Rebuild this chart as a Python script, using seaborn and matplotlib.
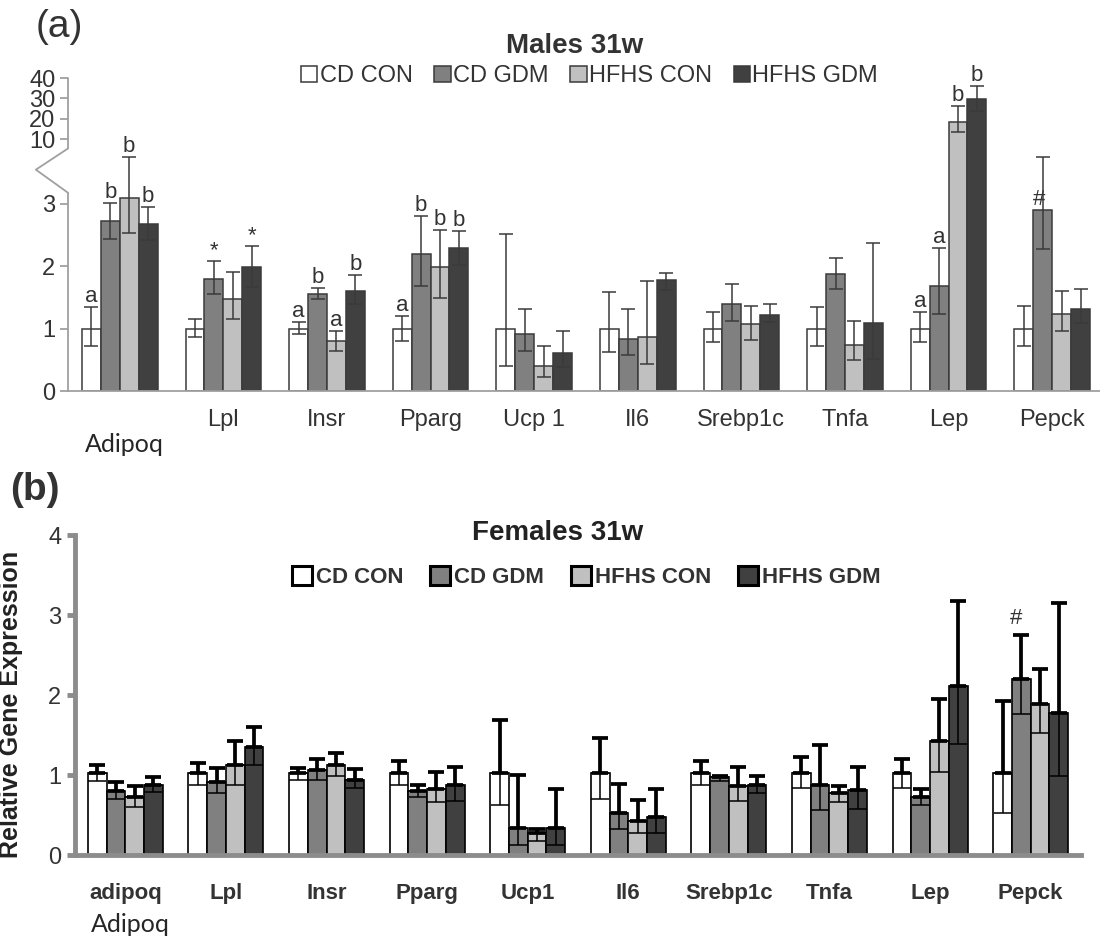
import numpy as np
import pandas as pd
import matplotlib
matplotlib.use("Agg")
import matplotlib.pyplot as plt
import matplotlib.transforms as mtransforms
import seaborn as sns

genes = ['Adipoq', 'Lpl', 'Insr', 'Pparg', 'Ucp1', 'Il6', 'Srebp1c', 'Tnfa', 'Lep', 'Pepck']
groups = ['CD CON', 'CD GDM', 'HFHS CON', 'HFHS GDM']
colors = ['#ffffff', '#808080', '#c0c0c0', '#404040']

male_ticklabels = ['', 'Lpl', 'Insr', 'Pparg', 'Ucp 1', 'Il6', 'Srebp1c', 'Tnfa', 'Lep', 'Pepck']
female_ticklabels = ['adipoq', 'Lpl', 'Insr', 'Pparg', 'Ucp1', 'Il6', 'Srebp1c', 'Tnfa', 'Lep', 'Pepck']

# males 31w: one row per group (CD CON, CD GDM, HFHS CON, HFHS GDM)
male_mean = [
    [1.0, 1.0, 1.0, 1.0, 1.0, 1.0, 1.0, 1.0, 1.0, 1.0],
    [2.73, 1.80, 1.56, 2.20, 0.92, 0.84, 1.39, 1.87, 1.68, 2.91],
    [3.10, 1.47, 0.80, 1.99, 0.40, 0.87, 1.08, 0.74, 18.3, 1.23],
    [2.68, 1.99, 1.61, 2.29, 0.61, 1.78, 1.22, 1.09, 29.9, 1.32],
]
male_hi = [
    [1.34, 1.15, 1.10, 1.20, 2.52, 1.59, 1.27, 1.34, 1.26, 1.36],
    [3.01, 2.08, 1.66, 2.81, 1.31, 1.31, 1.71, 2.13, 2.29, 3.75],
    [3.75, 1.91, 0.97, 2.59, 0.73, 1.77, 1.36, 1.12, 26.3, 1.61],
    [2.95, 2.33, 1.86, 2.57, 0.96, 1.90, 1.39, 2.38, 36.1, 1.64],
]
male_lo = [
    [0.73, 0.87, 0.92, 0.81, 0.40, 0.63, 0.78, 0.73, 0.78, 0.73],
    [2.44, 1.55, 1.47, 1.68, 0.64, 0.57, 1.12, 1.63, 1.24, 2.28],
    [2.53, 1.15, 0.64, 1.49, 0.22, 0.44, 0.82, 0.50, 13.3, 0.96],
    [2.42, 1.67, 1.40, 2.02, 0.39, 1.62, 1.10, 0.51, 24.0, 1.09],
]
# (gene index, group index, label)
male_marks = [
    (0, 0, 'a'), (0, 1, 'b'), (0, 2, 'b'), (0, 3, 'b'),
    (1, 1, '*'), (1, 3, '*'),
    (2, 0, 'a'), (2, 1, 'b'), (2, 2, 'a'), (2, 3, 'b'),
    (3, 0, 'a'), (3, 1, 'b'), (3, 2, 'b'), (3, 3, 'b'),
    (8, 0, 'a'), (8, 1, 'a'), (8, 2, 'b'), (8, 3, 'b'),
]

# females 31w
female_mean = [
    [1.03, 1.03, 1.03, 1.03, 1.03, 1.03, 1.03, 1.03, 1.03, 1.03],
    [0.80, 0.91, 1.06, 0.80, 0.34, 0.53, 0.97, 0.88, 0.72, 2.20],
    [0.72, 1.12, 1.12, 0.82, 0.28, 0.43, 0.86, 0.78, 1.43, 1.89],
    [0.88, 1.35, 0.94, 0.88, 0.34, 0.48, 0.87, 0.81, 2.11, 1.77],
]
female_hi = [
    [1.12, 1.15, 1.09, 1.18, 1.69, 1.46, 1.18, 1.22, 1.20, 1.92],
    [0.91, 1.09, 1.20, 0.88, 1.00, 0.89, 0.99, 1.38, 0.82, 2.75],
    [0.86, 1.42, 1.27, 1.04, 0.32, 0.69, 1.10, 0.86, 1.95, 2.32],
    [0.98, 1.60, 1.07, 1.10, 0.83, 0.83, 0.99, 1.10, 3.17, 3.15],
]
female_lo = [
    [0.93, 0.88, 0.94, 0.88, 0.63, 0.70, 0.87, 0.84, 0.84, 0.53],
    [0.70, 0.77, 0.94, 0.72, 0.13, 0.32, 0.93, 0.56, 0.62, 1.76],
    [0.60, 0.88, 0.99, 0.66, 0.18, 0.28, 0.68, 0.66, 1.04, 1.52],
    [0.79, 1.12, 0.84, 0.68, 0.13, 0.27, 0.77, 0.58, 1.39, 0.99],
]


def to_long(mean, hi, lo):
    rows = []
    for g, grp in enumerate(groups):
        for i, gene in enumerate(genes):
            rows.append({'gene': gene, 'group': grp, 'value': mean[g][i],
                         'hi': hi[g][i], 'lo': lo[g][i]})
    return pd.DataFrame(rows)


# broken y axis for the males panel (0-3.8 linear, squeezed 3.8-10, 10-40 compressed)
brk_data = [-100, 0, 3.8, 10, 40, 1000]
brk_screen = [-100, 0, 3.8, 4.04, 5.02, 5.02 + 960 * 0.0327]


def fwd(v):
    return np.interp(v, brk_data, brk_screen)


def inv(v):
    return np.interp(v, brk_screen, brk_data)


sns.set_style('white')
plt.rcParams['font.family'] = ['Liberation Sans', 'DejaVu Sans']

fig = plt.figure(figsize=(11, 9.47), dpi=100)

# ---------------- (a) Males ----------------
ax1 = fig.add_axes([0.0618, 0.5871, 0.9418, 0.3305])
df_m = to_long(male_mean, male_hi, male_lo)
sns.barplot(data=df_m, x='gene', y='value', hue='group', palette=colors,
            hue_order=groups, order=genes, errorbar=None, width=0.73,
            edgecolor='#3a3a3a', linewidth=1.1, ax=ax1)
ax1.set_yscale('function', functions=(fwd, inv))
ax1.set_ylim(0, 40)
ax1.set_xlim(-0.5, 9.5)
bars1 = list(ax1.containers)

for g, cont in enumerate(bars1):
    xs = [p.get_x() + p.get_width() / 2 for p in cont.patches]
    sub = df_m[df_m['group'] == groups[g]]
    y = sub['value'].to_numpy()
    err = [y - sub['lo'].to_numpy(), sub['hi'].to_numpy() - y]
    ax1.errorbar(xs, y, yerr=err, fmt='none', ecolor='#3a3a3a', elinewidth=1.1,
                 capsize=5, capthick=1.1, zorder=4)

for gi, hi_, txt in male_marks:
    p = bars1[hi_].patches[gi]
    ax1.annotate(txt, (p.get_x() + p.get_width() / 2, male_hi[hi_][gi]),
                 xytext=(0, 0), textcoords='offset points', ha='center',
                 va='bottom', fontsize=16, color='#333333')
p = bars1[1].patches[9]
ax1.annotate('#', (p.get_x() + p.get_width() * 0.3, male_mean[1][9]),
             xytext=(0, 0), textcoords='offset points', ha='center',
             va='bottom', fontsize=16, color='#333333')

for s in ['top', 'right', 'left']:
    ax1.spines[s].set_visible(False)
ax1.spines['bottom'].set_color('#a0a0a0')
ax1.spines['bottom'].set_linewidth(1.3)

# hand-drawn axis line with the break zigzag
trans = mtransforms.blended_transform_factory(ax1.transAxes, ax1.transData)
axcol = '#a0a0a0'
ax1.plot([0, 0], [0, 3.18], color=axcol, lw=1.3, transform=trans, clip_on=False)
ax1.plot([0, -0.031, 0], [3.18, 3.55, float(inv(3.89))], color=axcol, lw=1.3,
         transform=trans, clip_on=False)
ax1.plot([0, 0], [float(inv(3.89)), 40], color=axcol, lw=1.3, transform=trans,
         clip_on=False)

ax1.set_yticks([0, 1, 2, 3, 10, 20, 30, 40])
ax1.set_yticklabels(['0', '1', '2', '3', '10', '20', '30', '40'])
ax1.set_xticks(range(10))
ax1.set_xticklabels(male_ticklabels)
ax1.set_xticks(np.arange(-0.5, 10, 1), minor=True)
ax1.tick_params(axis='x', which='major', length=0, pad=13, labelsize=17,
                labelcolor='#333333')
ax1.tick_params(axis='x', which='minor', length=6, color=axcol, width=1.3)
ax1.tick_params(axis='y', length=6, color=axcol, width=1.3, labelsize=17,
                labelcolor='#333333', left=True, pad=3)
ax1.set_xlabel('')
ax1.set_ylabel('')
sns.move_legend(ax1, 'center', bbox_to_anchor=(0.536, 0.9197),
                bbox_transform=fig.transFigure, ncol=4, frameon=False,
                title=None, fontsize=17, handlelength=0.68, handleheight=0.68,
                handletextpad=0.1, columnspacing=0.93)
for t in ax1.get_legend().get_texts():
    t.set_color('#333333')

fig.text(0.522, 0.9514, 'Males 31w', ha='center', va='center', fontsize=20,
         fontweight='bold', color='#333333')
fig.text(0.032, 0.9715, '(a)', ha='left', va='center', fontsize=28, color='#333333')
fig.text(0.077, 0.543, 'Adipoq', ha='left', va='top', fontsize=18,
         family=['Lato', 'DejaVu Sans'])

# ---------------- (b) Females ----------------
bold_font = ['Liberation Sans Narrow', 'Liberation Sans', 'DejaVu Sans']
ax2 = fig.add_axes([0.0682, 0.0971, 0.9145, 0.3379])
df_f = to_long(female_mean, female_hi, female_lo)
sns.barplot(data=df_f, x='gene', y='value', hue='group', palette=colors,
            hue_order=groups, order=genes, errorbar=None, width=0.745,
            edgecolor='black', linewidth=1.2, ax=ax2)
ax2.set_ylim(0, 4)
ax2.set_xlim(-0.5, 9.5)
bars2 = list(ax2.containers)

for g, cont in enumerate(bars2):
    xs = [p.get_x() + p.get_width() / 2 for p in cont.patches]
    sub = df_f[df_f['group'] == groups[g]]
    y = sub['value'].to_numpy()
    up = sub['hi'].to_numpy() - y
    down = y - sub['lo'].to_numpy()
    ax2.errorbar(xs, y, yerr=[np.zeros_like(up), up], fmt='none', ecolor='black',
                 elinewidth=2.7, capsize=6, capthick=2.7, zorder=4)
    ax2.errorbar(xs, y, yerr=[down, np.zeros_like(down)], fmt='none',
                 ecolor='black', elinewidth=1.1, capsize=6.7, capthick=1.1, zorder=4)

p = bars2[1].patches[9]
ax2.annotate('#', (p.get_x() + p.get_width() * 0.2, female_hi[1][9]),
             xytext=(0, 4), textcoords='offset points', ha='center',
             va='bottom', fontsize=16, color='#333333')

for s in ['top', 'right']:
    ax2.spines[s].set_visible(False)
for s in ['left', 'bottom']:
    ax2.spines[s].set_color('#8c8c8c')
    ax2.spines[s].set_linewidth(3.5)

ax2.set_yticks([0, 1, 2, 3, 4])
ax2.set_xticks(range(10))
ax2.set_xticklabels(female_ticklabels, fontweight='bold', family=bold_font)
ax2.set_xticks(np.arange(-0.5, 10, 1), minor=True)
ax2.tick_params(axis='x', which='major', length=0, pad=20, labelsize=16,
                labelcolor='#333333')
ax2.tick_params(axis='x', which='minor', length=7, color='#8c8c8c', width=3.5)
ax2.tick_params(axis='y', length=6, color='#8c8c8c', width=3.5, labelsize=17,
                labelcolor='#333333', left=True, pad=4)
ax2.set_xlabel('')
ax2.set_ylabel('Relative Gene Expression', fontsize=18, fontweight='bold',
               family=bold_font, color='#222222')
ax2.yaxis.set_label_coords(-0.052, 0.472)
sns.move_legend(ax2, 'center', bbox_to_anchor=(0.533, 0.3907),
                bbox_transform=fig.transFigure, ncol=4, frameon=False,
                title=None, handlelength=0.9, handleheight=0.9,
                handletextpad=0.18, columnspacing=1.2,
                prop={'family': bold_font, 'size': 16, 'weight': 'bold'})
for h in ax2.get_legend().legend_handles:
    h.set_linewidth(2.2)
for t in ax2.get_legend().get_texts():
    t.set_color('#333333')

fig.text(0.507, 0.4372, 'Females 31w', ha='center', va='center', fontsize=20,
         fontweight='bold', family=bold_font, color='#222222')
fig.text(0.009, 0.4826, '(b)', ha='left', va='center', fontsize=28,
         fontweight='bold', color='#333333')
fig.text(0.083, 0.024, 'Adipoq', ha='left', va='center', fontsize=18,
         family=['Lato', 'DejaVu Sans'])

fig.savefig('out.png', dpi=100)
